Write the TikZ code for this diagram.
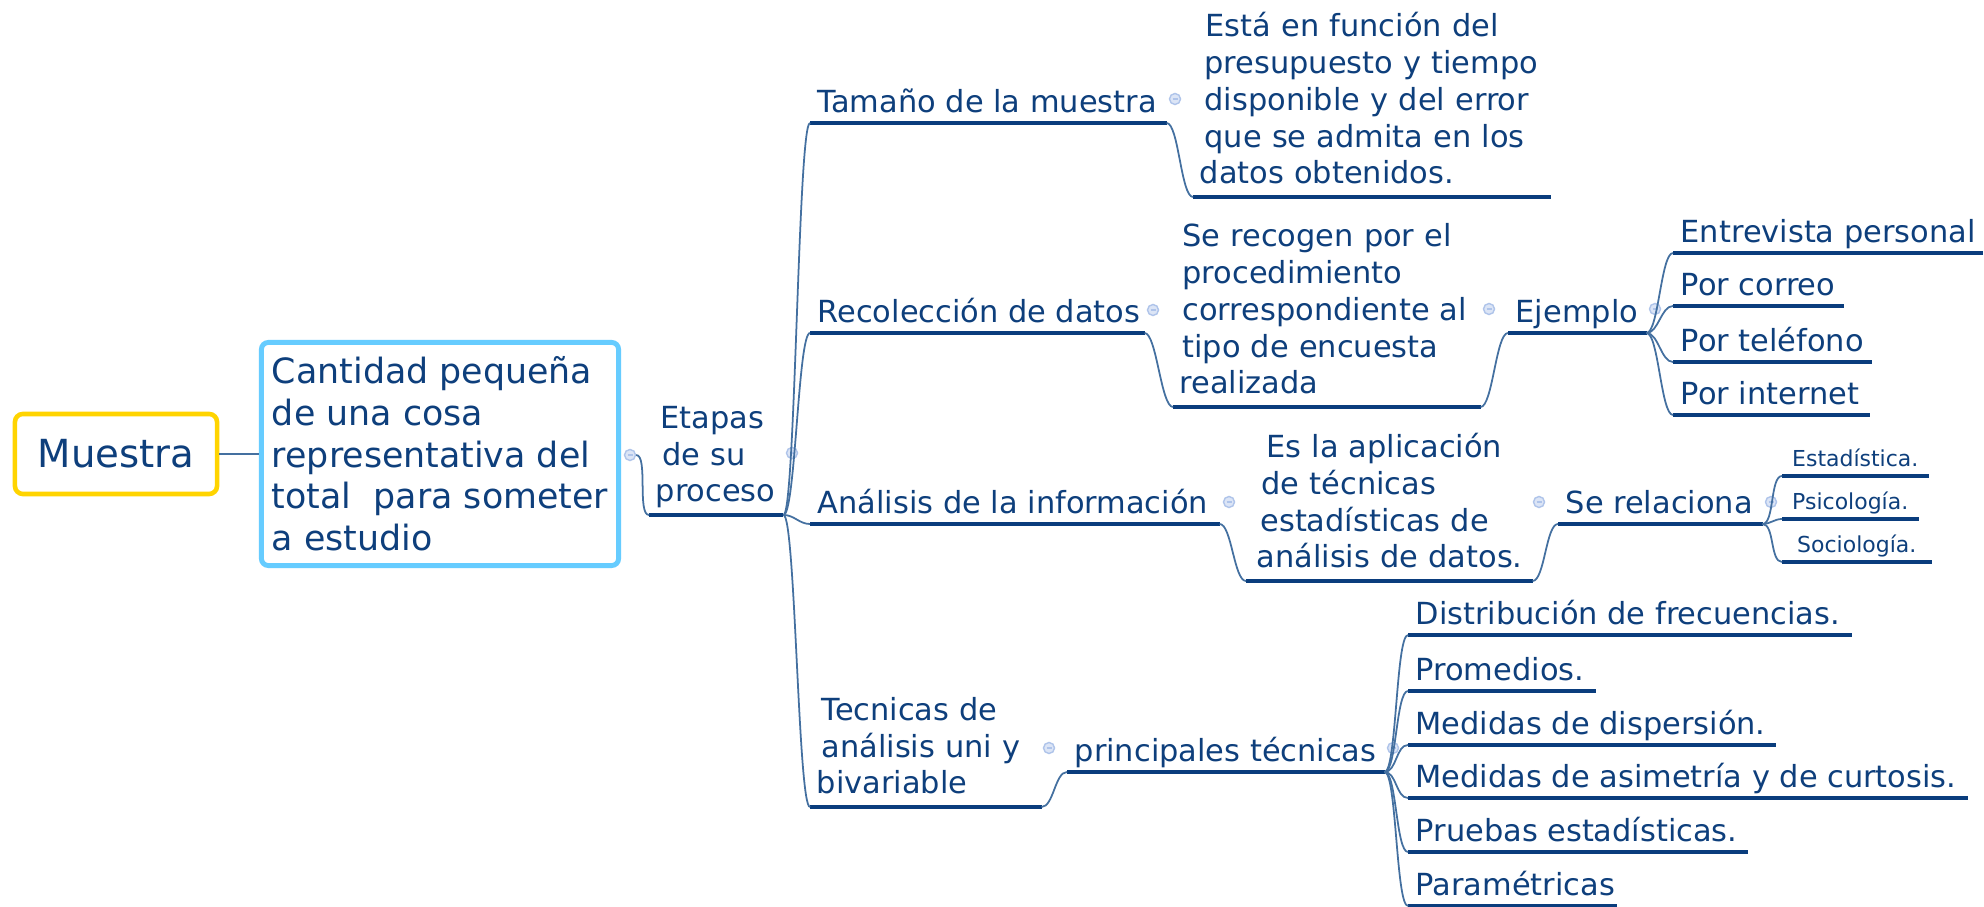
\documentclass[tikz,border=0pt]{standalone}
\usepackage{fontspec}
\setmainfont{DejaVu Sans}
\usetikzlibrary{positioning}

\definecolor{textblue}{HTML}{0E3F7C}
\definecolor{ulblue}{HTML}{0A3D7D}
\definecolor{linkblue}{HTML}{4470A0}
\definecolor{skyline}{HTML}{66CCFF}
\definecolor{goldline}{HTML}{FFD400}
\definecolor{knobfill}{HTML}{DCE5F6}
\definecolor{knobline}{HTML}{AFC4EA}

\newcommand\rootfont{\fontsize{11}{13}\selectfont}
\newcommand\boxfont{\fontsize{9.9}{11.85}\selectfont}
\newcommand\leaffont{\fontsize{8.65}{10.5}\selectfont}
\newcommand\smallleaffont{\fontsize{6.25}{7.5}\selectfont}
\newcommand\indentby[1]{\hspace*{#1}}

\tikzset{
  ulline/.style={draw=ulblue, line width=1.4pt},
  topic/.style={anchor=south west, inner xsep=0pt, inner ysep=0.7pt, text depth=2.1pt,
    text=textblue, font=\leaffont,
    execute at begin node={\hbox to #1\bgroup\hskip0.07cm},
    execute at end node={\hfil\egroup},
    append after command={(\tikzlastnode.south west) edge[ulline] (\tikzlastnode.south east)}},
  subtopic/.style={anchor=south west, inner xsep=0pt, inner ysep=1pt, text depth=1.6pt,
    text=textblue, font=\smallleaffont,
    execute at begin node={\hbox to #1\bgroup\hfil},
    execute at end node={\hfil\egroup},
    append after command={(\tikzlastnode.south west) edge[ulline] (\tikzlastnode.south east)}},
  note/.style={anchor=south west, inner xsep=0.06cm, inner ysep=1.4pt,
    text width=#1, align=left, text=textblue, font=\leaffont,
    execute at end node={\rule[-2.1pt]{0pt}{2.1pt}},
    append after command={(\tikzlastnode.south west) edge[ulline] (\tikzlastnode.south east)}},
  link/.style={draw=linkblue, line width=0.5pt, out=0, in=180, max distance=0.12cm},
  knob/.style={circle, draw=knobline, fill=knobfill, line width=0.4pt, minimum size=0.11cm, inner sep=0pt,
    path picture={\draw[knobline, line width=0.3pt] ([xshift=-0.025cm]path picture bounding box.center)
      -- ([xshift=0.025cm]path picture bounding box.center);}},
  rootbox/.style={draw=goldline, line width=1.3pt, rounded corners=0.08cm, minimum width=2.02cm,
    minimum height=0.8cm, text=textblue, font=\rootfont},
  defbox/.style={draw=skyline, line width=1.4pt, rounded corners=0.07cm, minimum width=3.57cm,
    minimum height=2.23cm, inner sep=0pt, align=left, text=textblue, font=\boxfont}
}

\begin{document}
\begin{tikzpicture}[x=0.01cm, y=-0.01cm]

\path[fill=white, use as bounding box] (0,0) rectangle (1984,907);

% centre of the map
\node [rootbox] (muestra) at (116,454) {Muestra};
\node [defbox] (defn) at (440,454) {Cantidad pequeña\\de una cosa\\representativa del\\total\ \ para someter\\a estudio};
\node [note=1.21cm] (etapas) at (649,515) {\indentby{1.4pt}Etapas\\\indentby{1.8pt}de su\\proceso};

% main branches
\node [topic=3.55cm] (tamano) at (810,123) {Tamaño de la muestra};
\node [topic=3.33cm] (recol) at (810,333) {Recolección de datos};
\node [topic=4.08cm] (analisis) at (810,524) {Análisis de la información};
\node [note=2.18cm] (tecnicas) at (810,807) {\indentby{1.4pt}Tecnicas de\\\indentby{1.4pt}análisis uni y\\bivariable};

\node [note=3.44cm] (tamanoA) at (1193,197) {\indentby{1.7pt}Está en función del\\\indentby{1.4pt}presupuesto y tiempo\\\indentby{1.4pt}disponible y del error\\\indentby{1.4pt}que se admita en los\\datos obtenidos.};

\node [note=2.94cm] (recolA) at (1173,407) {\indentby{0.8pt}Se recogen por el\\\indentby{0.8pt}procedimiento\\\indentby{0.8pt}correspondiente al\\\indentby{0.8pt}tipo de encuesta\\realizada};
\node [topic=1.37cm] (ejemplo) at (1508,333) {Ejemplo};
\node [topic=3.08cm] (entrevista) at (1673,253) {Entrevista personal};
\node [topic=1.69cm] (correo) at (1673,306) {Por correo};
\node [topic=1.97cm] (telefono) at (1673,362) {Por teléfono};
\node [topic=1.95cm] (internet) at (1673,415) {Por internet};

\node [note=2.73cm] (analisisA) at (1246,581) {\indentby{3.9pt}Es la aplicación\\\indentby{2.5pt}de técnicas\\\indentby{2.2pt}estadísticas de\\\indentby{1.1pt}análisis de datos.};
\node [topic=2.03cm] (serel) at (1558,524) {Se relaciona};
\node [subtopic=1.45cm] (estad) at (1782,476) {Estadística.};
\node [subtopic=1.35cm] (psico) at (1782,519) {Psicología.};
\node [subtopic=1.48cm] (socio) at (1782,562) {Sociología.};

\node [topic=3.16cm] (principales) at (1067,772) {principales técnicas};
\node [topic=4.42cm] (distrib) at (1408,635) {Distribución de frecuencias.};
\node [topic=1.86cm] (promedios) at (1408,691) {Promedios.};
\node [topic=3.66cm] (dispersion) at (1408,745) {Medidas de dispersión.};
\node [topic=5.58cm] (asimetria) at (1408,798) {Medidas de asimetría y de curtosis.};
\node [topic=3.38cm] (pruebas) at (1408,852) {Pruebas estadísticas.};
\node [topic=2.07cm] (parametricas) at (1408,906) {Paramétricas};

% collapse knobs
\node [knob] (mBox) at (630,455) {};
\node [knob] (mEtapas) at (792,453) {};
\node [knob] (mTam) at (1175,99) {};
\node [knob] (mRec) at (1153,310) {};
\node [knob] (mRecA) at (1489,309) {};
\node [knob] (mEj) at (1655,309) {};
\node [knob] (mAna) at (1229,502) {};
\node [knob] (mAnaA) at (1539,502) {};
\node [knob] (mSeRel) at (1771,502) {};
\node [knob] (mTec) at (1049,748) {};
\node [knob] (mPrin) at (1393,748) {};

% connectors
\draw [link] (muestra) -- (defn);
\draw [link] (mBox) to (etapas.south west);
\foreach \child in {tamano,recol,analisis,tecnicas}
  \draw [link] (etapas.south east) to (\child.south west);
\draw [link] (tamano.south east) to (tamanoA.south west);
\draw [link] (recol.south east) to (recolA.south west);
\draw [link] (recolA.south east) to (ejemplo.south west);
\foreach \child in {entrevista,correo,telefono,internet}
  \draw [link] (ejemplo.south east) to (\child.south west);
\draw [link] (analisis.south east) to (analisisA.south west);
\draw [link] (analisisA.south east) to (serel.south west);
\foreach \child in {estad,psico,socio}
  \draw [link] (serel.south east) to (\child.south west);
\draw [link] (tecnicas.south east) to (principales.south west);
\foreach \child in {distrib,promedios,dispersion,asimetria,pruebas,parametricas}
  \draw [link] (principales.south east) to (\child.south west);

\end{tikzpicture}
\end{document}
